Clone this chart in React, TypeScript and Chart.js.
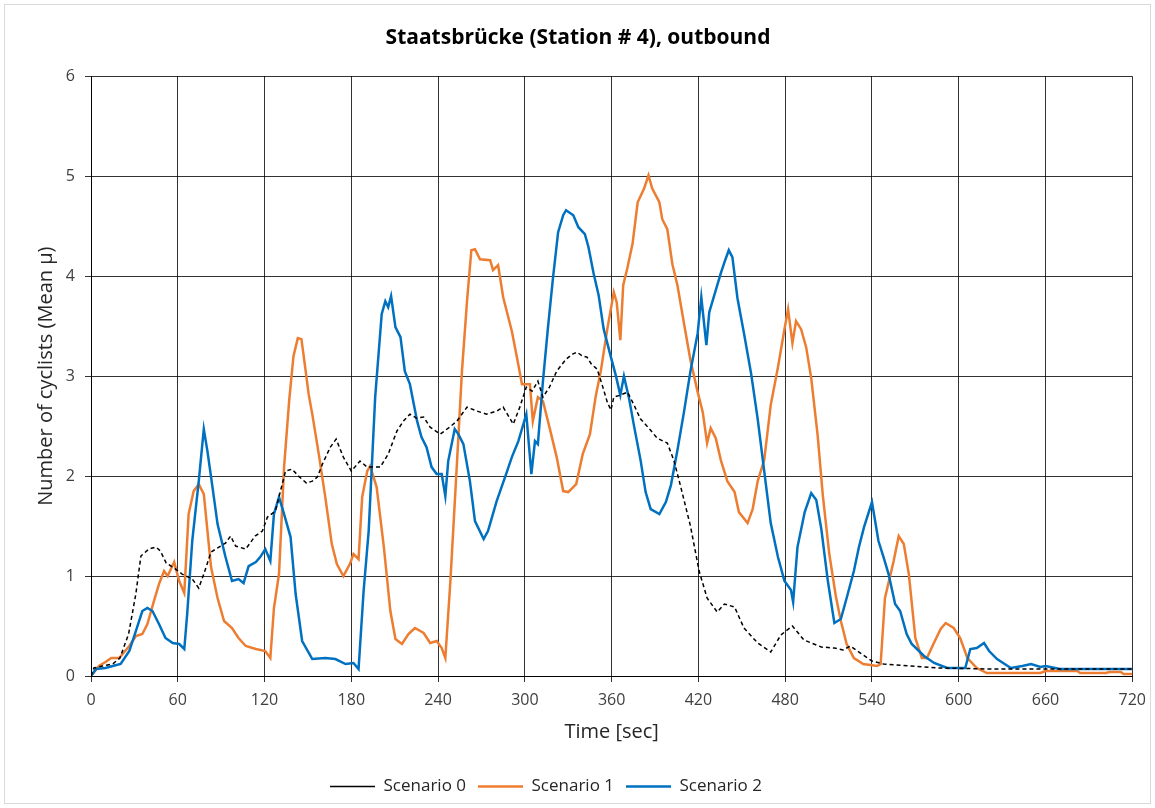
import React, { useEffect, useRef } from "react";
import { Chart, registerables } from "chart.js";

Chart.register(...registerables);

// Time axis (seconds) and mean number of cyclists for each scenario
const s0Time = [
  0, 2, 8, 15, 20, 26, 31, 34.5, 40, 45, 48, 52, 58.5, 63, 70, 74.5, 78, 83, 88.5, 93, 96.5, 100, 107,
  113.5, 118.5, 122, 127.5, 131, 134.5, 139, 143.5, 149, 153, 156.5, 160, 165.5, 169.5, 174.5, 180, 186,
  191, 200, 205.5, 211.5, 216, 220.5, 225, 230, 234.5, 241.5, 248, 253, 260, 267, 273.5, 280.5, 285, 292,
  296.5, 301, 305, 309, 312.5, 317, 322, 328.5, 333, 336, 340, 343, 346, 350, 353.5, 357, 359.5, 361.5,
  366, 371, 375.5, 380, 384.5, 391.5, 398.5, 403, 408, 414.5, 420.5, 426, 433, 438, 445, 451.5, 461, 470,
  477, 485, 493, 505, 514, 520, 525, 532, 540, 548, 567, 587, 622, 720,
];
const s0Mean = [
  0, 0.08, 0.1, 0.12, 0.18, 0.42, 0.82, 1.2, 1.27, 1.29, 1.25, 1.13, 1.07, 1.02, 0.97, 0.88, 1.02, 1.24,
  1.29, 1.33, 1.4, 1.3, 1.27, 1.4, 1.45, 1.59, 1.65, 1.85, 2.05, 2.07, 2.0, 1.93, 1.95, 1.99, 2.12, 2.29,
  2.37, 2.19, 2.05, 2.15, 2.09, 2.09, 2.22, 2.45, 2.55, 2.62, 2.58, 2.59, 2.49, 2.42, 2.49, 2.55, 2.69,
  2.65, 2.62, 2.65, 2.69, 2.52, 2.69, 2.89, 2.85, 2.95, 2.79, 2.89, 3.05, 3.17, 3.22, 3.24, 3.2, 3.19,
  3.12, 3.07, 2.91, 2.74, 2.66, 2.79, 2.81, 2.84, 2.71, 2.57, 2.5, 2.38, 2.33, 2.16, 1.88, 1.5, 1.05, 0.78,
  0.64, 0.72, 0.69, 0.48, 0.33, 0.24, 0.41, 0.5, 0.36, 0.29, 0.28, 0.26, 0.3, 0.23, 0.15, 0.12, 0.1, 0.08,
  0.07, 0.07,
];

const s1Time = [
  0, 5.5, 10, 14, 19.5, 26.5, 31, 35.5, 39, 43.5, 47, 50.5, 53, 57.5, 61, 64.5, 67.5, 71, 74.5, 78, 83,
  87.5, 92, 97.5, 102, 107, 114, 120.5, 124, 126.5, 130, 133.5, 137, 140, 143, 145.5, 148, 150.5, 153,
  157.5, 162, 166.5, 170, 174.5, 179, 181.5, 185, 187.5, 191, 193, 197.5, 202.5, 207, 210.5, 215, 219.5,
  224, 230, 234.5, 239, 242.5, 245, 248.5, 253, 256.5, 260, 263, 265.5, 269, 276, 278, 281.5, 285, 291,
  294.5, 298, 303.5, 305.5, 309, 312.5, 317, 322, 326.5, 330, 335.5, 340, 345, 349, 352.5, 357, 361.5,
  363.5, 366, 368, 371, 374.5, 378, 382.5, 385.5, 388, 393, 395, 398.5, 402, 405.5, 410, 414.5, 419.5,
  423, 426, 428.5, 432, 435.5, 440, 445, 448, 454, 457.5, 461, 465.5, 470, 475, 479.5, 482, 485, 487.5,
  491, 494.5, 498, 502.5, 506, 510.5, 515, 518.5, 522.5, 527.5, 534, 543.5, 546, 549, 555, 558.5, 562,
  565.5, 570, 574.5, 578, 582.5, 587.5, 591, 596.5, 601, 606, 612.5, 619.5, 656.5, 660, 682, 684, 702,
  704, 712, 714, 720,
];
const s1Mean = [
  0, 0.1, 0.14, 0.18, 0.18, 0.3, 0.4, 0.42, 0.52, 0.75, 0.92, 1.05, 1.0, 1.14, 0.95, 0.83, 1.62, 1.85,
  1.92, 1.82, 1.09, 0.78, 0.55, 0.48, 0.38, 0.3, 0.27, 0.25, 0.18, 0.68, 1.02, 2.09, 2.75, 3.2, 3.38, 3.37,
  3.1, 2.82, 2.62, 2.22, 1.79, 1.32, 1.12, 1.0, 1.12, 1.22, 1.17, 1.79, 2.05, 2.1, 1.89, 1.29, 0.65, 0.37,
  0.32, 0.42, 0.48, 0.43, 0.33, 0.35, 0.28, 0.18, 0.95, 2.12, 3.05, 3.75, 4.26, 4.27, 4.17, 4.16, 4.06,
  4.11, 3.79, 3.45, 3.19, 2.92, 2.92, 2.55, 2.79, 2.75, 2.49, 2.19, 1.85, 1.84, 1.92, 2.22, 2.42, 2.8,
  3.05, 3.47, 3.84, 3.74, 3.36, 3.91, 4.09, 4.33, 4.74, 4.88, 5.01, 4.88, 4.74, 4.57, 4.47, 4.12, 3.91,
  3.53, 3.16, 2.84, 2.64, 2.33, 2.48, 2.38, 2.16, 1.95, 1.84, 1.64, 1.53, 1.67, 1.95, 2.16, 2.71, 3.09,
  3.47, 3.67, 3.33, 3.55, 3.47, 3.29, 2.98, 2.4, 1.81, 1.22, 0.8, 0.55, 0.32, 0.18, 0.12, 0.1, 0.12, 0.78,
  1.15, 1.4, 1.32, 1.02, 0.38, 0.18, 0.18, 0.32, 0.47, 0.53, 0.48, 0.38, 0.18, 0.08, 0.03, 0.03, 0.05,
  0.05, 0.03, 0.03, 0.04, 0.04, 0.02, 0.02,
];

const s2Time = [
  0, 3.5, 10, 15, 20.5, 26.5, 31, 35.5, 39, 42.5, 47, 51.5, 56.5, 61, 64.5, 66.5, 70, 74.5, 78, 80.5, 84,
  87.5, 93, 97.5, 102, 105.5, 109, 114, 117, 120.5, 124, 126.5, 130, 133.5, 138, 141.5, 146, 153, 162,
  169, 176, 181.5, 185, 188.5, 192, 196.5, 201, 203.5, 205.5, 207.5, 210.5, 214, 217, 220.5, 225.5,
  228.5, 232, 235.5, 239, 242.5, 245, 247, 251.5, 254, 257.5, 262, 265.5, 271.5, 274.5, 280.5, 287.5,
  291, 295.5, 301, 304.5, 307, 309, 312.5, 316, 319.5, 323, 326.5, 328.5, 333.5, 337, 341.5, 344, 347.5,
  351, 354.5, 359.5, 363, 366, 368.5, 372, 375.5, 380, 383.5, 387, 393, 397.5, 401, 405.5, 410, 414.5,
  419.5, 422, 425.5, 427.5, 431, 435.5, 438.5, 441, 443.5, 447, 451.5, 456.5, 461, 465.5, 470, 475,
  479.5, 484, 485.5, 488.5, 493.5, 498, 501.5, 505, 509.5, 514, 518.5, 522.5, 527.5, 531, 534.5, 540,
  544.5, 548, 551.5, 556, 559.5, 564, 567.5, 576, 583, 592, 604.5, 608, 612.5, 617.5, 621, 626.5, 636,
  644, 650, 656.5, 660, 670, 720,
];
const s2Mean = [
  0, 0.07, 0.08, 0.1, 0.12, 0.25, 0.45, 0.65, 0.68, 0.65, 0.52, 0.38, 0.33, 0.32, 0.27, 0.62, 1.35, 1.95,
  2.47, 2.25, 1.89, 1.52, 1.19, 0.95, 0.97, 0.93, 1.1, 1.14, 1.19, 1.27, 1.15, 1.62, 1.79, 1.62, 1.39,
  0.82, 0.35, 0.17, 0.18, 0.17, 0.12, 0.13, 0.07, 0.85, 1.45, 2.79, 3.62, 3.75, 3.69, 3.8, 3.49, 3.39,
  3.05, 2.92, 2.55, 2.39, 2.29, 2.09, 2.02, 2.02, 1.8, 2.15, 2.47, 2.42, 2.32, 1.95, 1.55, 1.37, 1.45,
  1.75, 2.04, 2.19, 2.35, 2.62, 2.02, 2.35, 2.32, 2.95, 3.49, 3.99, 4.44, 4.61, 4.66, 4.61, 4.49, 4.42,
  4.29, 4.03, 3.81, 3.47, 3.19, 3.0, 2.81, 3.0, 2.78, 2.5, 2.16, 1.84, 1.67, 1.62, 1.74, 1.91, 2.26, 2.64,
  3.05, 3.43, 3.79, 3.31, 3.64, 3.81, 4.03, 4.16, 4.26, 4.19, 3.78, 3.43, 3.02, 2.57, 2.05, 1.53, 1.19,
  0.95, 0.86, 0.74, 1.29, 1.64, 1.83, 1.76, 1.47, 0.95, 0.53, 0.57, 0.78, 1.05, 1.29, 1.49, 1.74, 1.35,
  1.19, 1.02, 0.72, 0.65, 0.42, 0.32, 0.2, 0.13, 0.08, 0.08, 0.27, 0.28, 0.33, 0.25, 0.17, 0.08, 0.1,
  0.12, 0.09, 0.1, 0.07, 0.07,
];

const seriesNames = ["Scenario 0", "Scenario 1", "Scenario 2"];
const titleText = "Staatsbrücke (Station # 4), outbound";
const xTitle = "Time [sec]";
const yTitle = "Number of cyclists (Mean µ)";

const toPoints = (t: number[], v: number[]) => t.map((x, i) => ({ x, y: v[i] }));

const FONT = "'Open Sans', 'Noto Sans', sans-serif";

// Thin grey frame around the whole chart
const framePlugin = {
  id: "frame",
  beforeDraw(chart: any) {
    const { ctx } = chart;
    ctx.save();
    ctx.fillStyle = "#ffffff";
    ctx.fillRect(0, 0, chart.width, chart.height);
    ctx.strokeStyle = "#d9d9d9";
    ctx.lineWidth = 1;
    ctx.strokeRect(4.5, 4.5, chart.width - 9, chart.height - 9);
    ctx.restore();
  },
};

// Fine horizontal placement of the title and the legend row
const blockShiftPlugin = {
  id: "blockShift",
  afterLayout(chart: any) {
    const lg = chart.legend;
    if (lg) {
      lg.left -= 24;
      lg.right -= 24;
    }
    const tb = chart.titleBlock;
    if (tb) {
      tb.left += 8;
      tb.right += 8;
    }
  },
};

export default function App() {
  const canvasRef = useRef<HTMLCanvasElement | null>(null);

  useEffect(() => {
    if (!canvasRef.current) return;
    const chart = new Chart(canvasRef.current, {
      type: "line",
      data: {
        datasets: [
          {
            label: seriesNames[0],
            data: toPoints(s0Time, s0Mean),
            borderColor: "#000000",
            backgroundColor: "#000000",
            borderWidth: 1.5,
            borderDash: [4, 3],
            pointRadius: 0,
            order: 0,
          },
          {
            label: seriesNames[1],
            data: toPoints(s1Time, s1Mean),
            borderColor: "#ED7D31",
            backgroundColor: "#ED7D31",
            borderWidth: 2.5,
            pointRadius: 0,
            order: 2,
          },
          {
            label: seriesNames[2],
            data: toPoints(s2Time, s2Mean),
            borderColor: "#0070C0",
            backgroundColor: "#0070C0",
            borderWidth: 2.5,
            pointRadius: 0,
            order: 1,
          },
        ],
      },
      options: {
        animation: false,
        responsive: false,
        maintainAspectRatio: false,
        layout: { padding: { left: 0, right: 15, top: 0, bottom: 3 } },
        plugins: {
          tooltip: { enabled: false },
          title: {
            display: true,
            text: titleText,
            color: "#000000",
            font: { family: FONT, size: 21, weight: "bold" },
            padding: { top: 25.4, bottom: 25.7 },
          },
          legend: {
            position: "bottom",
            labels: {
              usePointStyle: true,
              pointStyle: "line",
              pointStyleWidth: 45,
              color: "#262626",
              font: { family: FONT, size: 17 },
              padding: 12,
              sort: (a: any, b: any) => a.datasetIndex - b.datasetIndex,
            },
          },
        },
        scales: {
          x: {
            type: "linear",
            min: 0,
            max: 720,
            ticks: { stepSize: 60, color: "#404040", font: { family: FONT, size: 16 }, padding: 9, maxRotation: 0 },
            grid: { color: "rgba(0,0,0,0.8)", lineWidth: 1, tickLength: 6 },
            border: { color: "#000000", width: 1 },
            title: {
              display: true,
              text: xTitle,
              color: "#262626",
              font: { family: FONT, size: 20 },
              padding: { top: 4, bottom: 22 },
            },
            afterFit: (scale: any) => {
              scale.height = 90;
            },
          },
          y: {
            min: 0,
            max: 6,
            ticks: { stepSize: 1, color: "#404040", font: { family: FONT, size: 16 }, padding: 10 },
            grid: { color: "rgba(0,0,0,0.8)", lineWidth: 1, tickLength: 6 },
            border: { color: "#000000", width: 1 },
            title: {
              display: true,
              text: yTitle,
              color: "#262626",
              font: { family: FONT, size: 20 },
              padding: { top: 34, bottom: 0 },
            },
            afterFit: (scale: any) => {
              scale.width = 91;
            },
          },
        },
      },
      plugins: [framePlugin, blockShiftPlugin],
    });
    return () => chart.destroy();
  }, []);

  return (
    <div style={{ position: "absolute", left: 0, top: 0, width: 1155, height: 808, background: "#fff" }}>
      <canvas ref={canvasRef} width={1155} height={808} style={{ display: "block" }} />
    </div>
  );
}
